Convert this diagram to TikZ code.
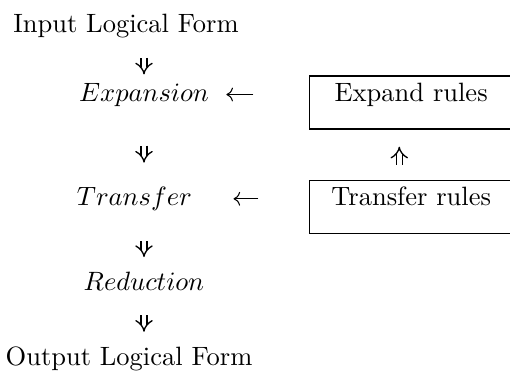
\documentclass[tikz,border=0pt]{standalone}
\usepackage{tikz}
\usetikzlibrary{positioning}
\usetikzlibrary{arrows.meta}

\begin{document}
\begin{tikzpicture}
      [x=0.3774pt, y=-0.3774pt,
       every node/.style={inner sep=0pt, anchor=base},
       rulebox/.style={draw, line width=0.5pt, minimum width=77pt, text height=9.4pt, text depth=10.6pt},
       dn/.style={double, line width=0.5pt, double distance=1.8pt, -{Implies[width=5.6pt,length=2.6pt]}},
       lt/.style={->}]
    \useasboundingbox (0,0) rectangle (510,372);
    \node (in)  at (126,32)  {Input Logical Form};
    \node (exp) at (144,101) {$Expansion$};
    \node[rulebox, base right=37.4pt of exp] (expr) {Expand rules};
    \node[rulebox, below=18.9pt of expr] (trr) {Transfer rules};
    \node[base left=43.8pt of trr] (tr) {$Transfer$};
    \node (red) at (144,290) {$Reduction$};
    \node (out) at (129,365) {Output Logical Form};

    \draw[dn, shorten <=7.5pt, shorten >=3pt] (in.south -| exp) -- (exp);
    \draw[dn, shorten <=14.7pt, shorten >=9pt] (exp) -- (tr.north -| exp);
    \draw[dn, shorten <=11.3pt, shorten >=5.3pt] (tr.south -| red) -- (red);
    \draw[dn, shorten <=9.4pt, shorten >=5.3pt] (red) -- (out.north -| red);
    \draw[lt, shorten <=20.8pt, shorten >=6.4pt] (expr.west |- exp) -- (exp);
    \draw[lt, shorten <=18.9pt, shorten >=15.5pt] (trr.west |- tr) -- (tr);
    \draw[dn, shorten <=5.7pt, shorten >=6.4pt] ([xshift=-4.5pt]trr.north) -- ([xshift=-4.5pt]expr.south);
\end{tikzpicture}
\end{document}
